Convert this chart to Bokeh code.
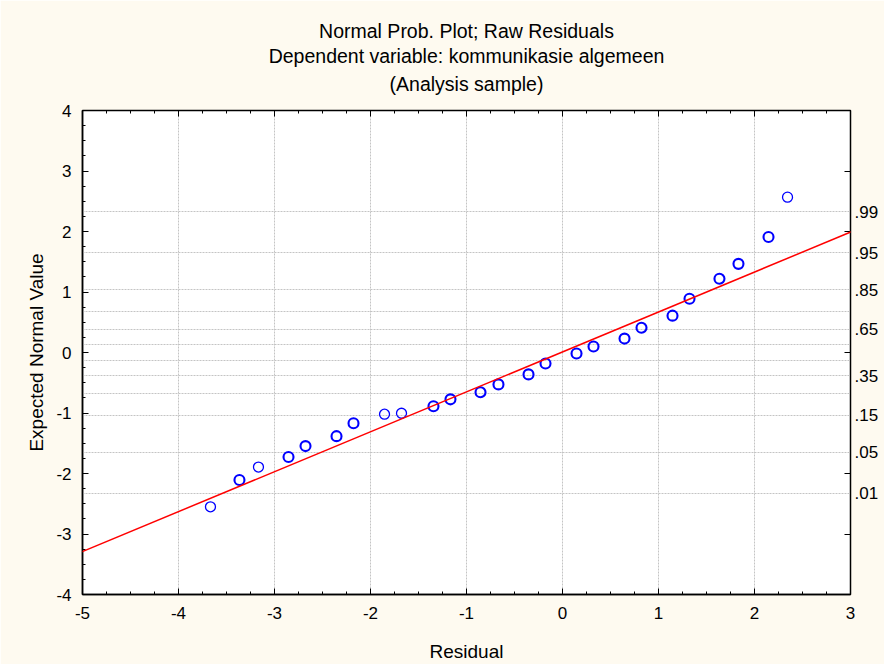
from statistics import NormalDist
from bokeh.plotting import figure
from bokeh.models import (LinearAxis, FixedTicker, Range1d, Title, ColumnDataSource,
                          CustomJSTickFormatter, Slope)
from bokeh.embed import file_html
from bokeh.resources import INLINE

# ---------------- data ----------------
residual = [-3.667, -3.365, -3.167, -2.854, -2.677, -2.354, -2.177, -1.854, -1.677,
            -1.344, -1.167, -0.854, -0.667, -0.354, -0.177, 0.146, 0.323, 0.646,
            0.823, 1.146, 1.323, 1.635, 1.833, 2.146, 2.344]
expected = [-2.55, -2.107, -1.893, -1.728, -1.547, -1.383, -1.169, -1.02, -1.004,
            -0.889, -0.774, -0.658, -0.527, -0.362, -0.181, -0.016, 0.099, 0.23,
            0.41, 0.609, 0.889, 1.218, 1.465, 1.909, 2.568]
overlap = [1, 2, 1, 2, 2, 2, 2, 1, 1, 2, 2, 2, 2, 2, 2, 2, 2, 2, 2, 2, 2, 2, 2, 2, 1]
fit_intercept = 0.01
fit_slope = 0.66
prob_labels = [".01", ".05", ".15", ".35", ".65", ".85", ".95", ".99"]
prob_label_values = [0.01, 0.05, 0.15, 0.35, 0.65, 0.85, 0.95, 0.99]
prob_grid_values = [0.01, 0.05, 0.15, 0.25, 0.35, 0.45, 0.55, 0.65, 0.75, 0.85, 0.95, 0.99]
title_lines = ["Normal Prob. Plot; Raw Residuals",
               "Dependent variable: kommunikasie algemeen",
               "(Analysis sample)"]
x_ticks = [-5, -4, -3, -2, -1, 0, 1, 2, 3]
y_ticks = [-4, -3, -2, -1, 0, 1, 2, 3, 4]
right_ticks = [-3, -2, 0, 2, 3]

FONT = "Liberation Sans"
BG = "#FEFAF0"

nd = NormalDist()
z_labels = [nd.inv_cdf(q) for q in prob_label_values]
z_grid = [nd.inv_cdf(q) for q in prob_grid_values]

p = figure(width=884, height=664, output_backend="svg", toolbar_location=None,
           x_range=Range1d(-5, 3), y_range=Range1d(-4, 4),
           min_border_left=82, min_border_right=34, min_border_top=110, min_border_bottom=68,
           background_fill_color="white", border_fill_color=BG,
           outline_line_color="black", outline_line_width=1.5)

hyphen_fmt = CustomJSTickFormatter(code="return String(tick);")
blank_fmt = CustomJSTickFormatter(code='return "";')

for ax, ticks in ((p.xaxis[0], x_ticks), (p.yaxis[0], y_ticks)):
    ax.ticker = FixedTicker(ticks=ticks,
                            minor_ticks=[t / 4 for t in range(ticks[0] * 4, ticks[-1] * 4 + 1)])
    ax.formatter = hyphen_fmt
    ax.major_tick_in = 6
    ax.major_tick_out = 0
    ax.minor_tick_in = 3
    ax.minor_tick_out = 0
    ax.axis_line_color = "black"
    ax.axis_line_width = 1.5
    ax.major_tick_line_color = "black"
    ax.minor_tick_line_color = "black"
    ax.major_label_text_font = FONT
    ax.major_label_text_font_size = "17px"
    ax.major_label_text_color = "black"
    ax.axis_label_text_font = FONT
    ax.axis_label_text_font_size = "19px"
    ax.axis_label_text_font_style = "normal"
    ax.axis_label_text_color = "black"

p.xaxis[0].axis_label = "Residual"
p.xaxis[0].major_label_standoff = 12
p.xaxis[0].axis_label_standoff = 19
p.yaxis[0].axis_label = "Expected Normal Value"
p.yaxis[0].major_label_standoff = 11
p.yaxis[0].axis_label_standoff = 6

# top axis (ticks only; a blank label reserves space below the titles)
top = LinearAxis(ticker=FixedTicker(ticks=x_ticks,
                                    minor_ticks=[t / 4 for t in range(-20, 13)]),
                 formatter=blank_fmt,
                 major_tick_in=6, major_tick_out=0, minor_tick_in=3, minor_tick_out=0,
                 major_label_standoff=0, axis_line_color="black",
                 axis_label="\u00a0", axis_label_text_font_size="7.5px",
                 axis_label_standoff=0)
p.add_layout(top, "above")

# right axis ticks only
rt = LinearAxis(ticker=FixedTicker(ticks=right_ticks, minor_ticks=[]),
                formatter=blank_fmt,
                major_tick_in=6, major_tick_out=0, minor_tick_in=0, minor_tick_out=0,
                major_label_standoff=0, axis_line_color="black")
p.add_layout(rt, "right")

# right axis probability labels
fmt = CustomJSTickFormatter(args=dict(zs=z_labels, labs=prob_labels), code="""
    for (let i = 0; i < zs.length; i++) {
        if (Math.abs(zs[i] - tick) < 1e-6) return labs[i];
    }
    return "";
""")
rl = LinearAxis(ticker=FixedTicker(ticks=z_labels, minor_ticks=[]), formatter=fmt,
                major_tick_in=0, major_tick_out=0, minor_tick_in=0, minor_tick_out=0,
                axis_line_color=None, major_label_standoff=4,
                major_label_text_font=FONT, major_label_text_font_size="17px",
                major_label_text_color="black")
p.add_layout(rl, "right")

# grids
p.xgrid.ticker = FixedTicker(ticks=x_ticks[1:-1])
p.ygrid.ticker = FixedTicker(ticks=z_grid)
for g in (p.xgrid[0], p.ygrid[0]):
    g.grid_line_color = "#c4c4c4"
    g.grid_line_dash = "2 1"
    g.grid_line_width = 1

# fit line
p.add_layout(Slope(gradient=fit_slope, y_intercept=fit_intercept,
                   line_color="red", line_width=1.5))

# points
src = ColumnDataSource(dict(x=residual, y=expected,
                            lw=[1.3 + 0.8 * (c - 1) for c in overlap]))
p.scatter("x", "y", source=src, marker="circle", size=10, fill_color=None,
          line_color="#0000FF", line_width="lw")

# titles (added innermost first)
title_standoffs = [2, 0, 8]
for txt, so in reversed(list(zip(title_lines, title_standoffs))):
    p.add_layout(Title(text=txt, align="center", text_font=FONT, text_font_size="19.5px",
                       text_font_style="normal", text_color="black", standoff=so), "above")

open("out.html", "w").write(file_html(p, INLINE))
